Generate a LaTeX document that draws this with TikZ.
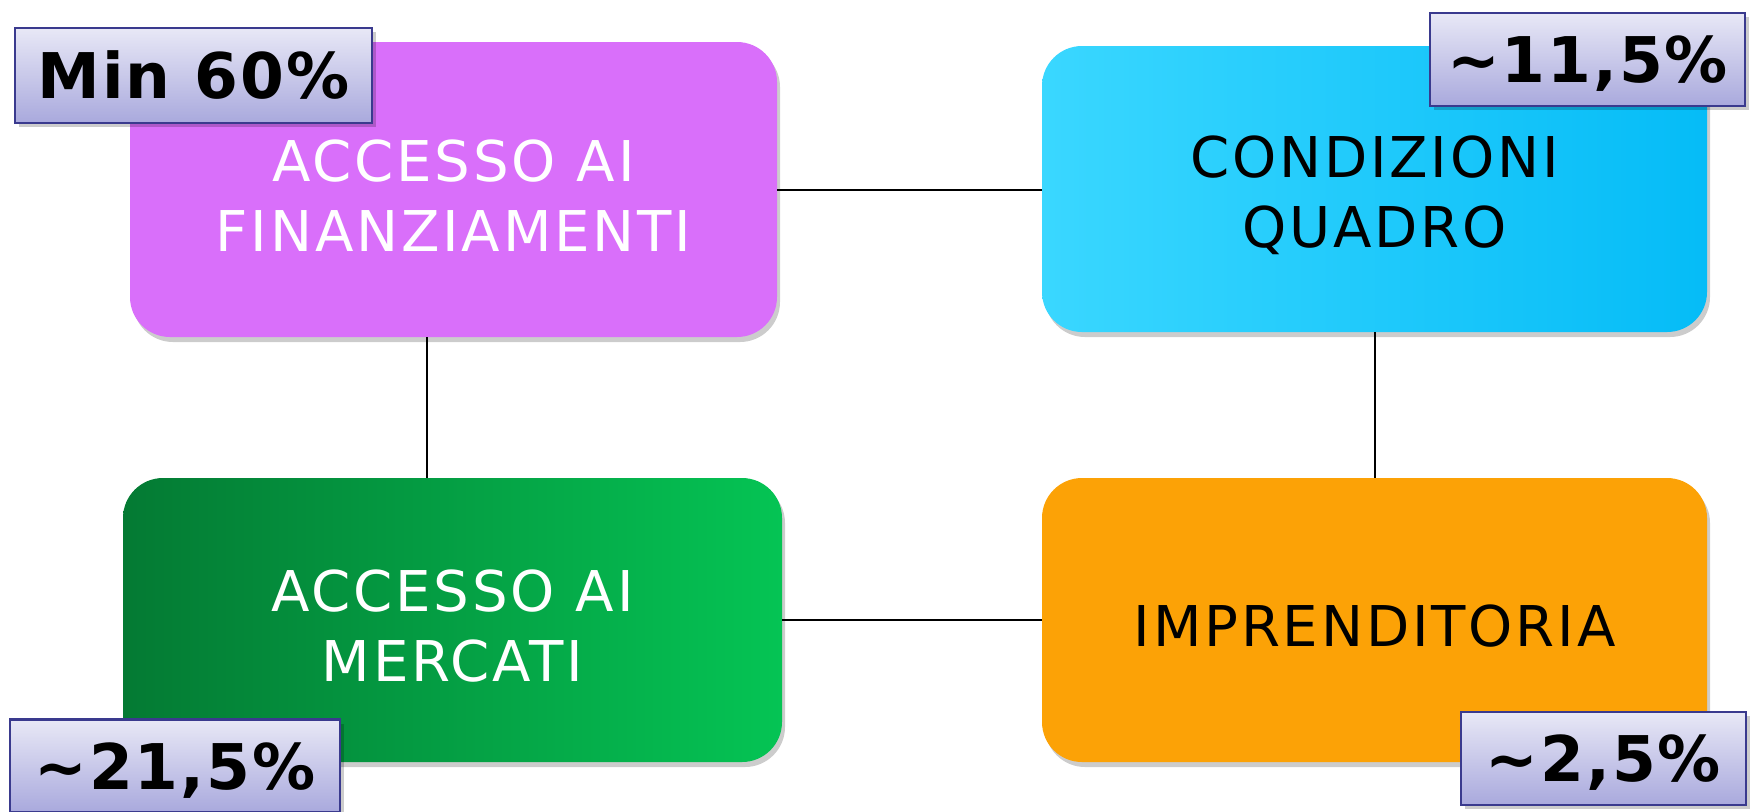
\documentclass[tikz,border=0pt]{standalone}
\usepackage{fontspec}
\setmainfont{DejaVu Sans}
\newfontfamily\boxfont[LetterSpace=5]{DejaVu Sans}
\newfontfamily\pctfont[LetterSpace=3]{DejaVu Sans}
\usetikzlibrary{shadows}
\definecolor{purpbox}{HTML}{D96FFA}
\definecolor{cyanL}{HTML}{3AD7FF}
\definecolor{cyanR}{HTML}{05BCF7}
\definecolor{greenL}{HTML}{047A33}
\definecolor{greenR}{HTML}{05C454}
\definecolor{orangebox}{HTML}{FCA206}
\definecolor{pcttop}{HTML}{E8E8F6}
\definecolor{pctbot}{HTML}{A9A9DD}
\definecolor{pctborder}{HTML}{3A3A8E}
\newcommand{\topstrut}{\rule{0pt}{27pt}}
\begin{document}
\begin{tikzpicture}[x=0.5pt,y=-0.5pt,
  area/.style={rounded corners=20pt, inner sep=0pt, align=center,
    font=\boxfont\fontsize{28.1}{35}\selectfont,
    drop shadow={shadow xshift=1.5pt,shadow yshift=-2.5pt,opacity=0.2,fill=black}},
  pct/.style={draw=pctborder, line width=1.2pt, top color=pcttop, bottom color=pctbot,
    inner sep=0pt, font=\pctfont\bfseries\fontsize{31.5}{36}\selectfont,
    text height=23pt, text depth=0pt,
    drop shadow={shadow xshift=2pt,shadow yshift=-2pt,opacity=0.2,fill=black}},
  link/.style={draw=black, line width=1pt}]
\useasboundingbox (0,0) rectangle (1750,811);

\node[area, fill=purpbox, text=white, minimum width=323.5pt, minimum height=147.5pt]
  (fin) at (453.5,189.5) {\topstrut ACCESSO AI\\FINANZIAMENTI};
\node[area, left color=cyanL, right color=cyanR, text=black, minimum width=332.5pt, minimum height=143pt]
  (cond) at (1374.5,189) {\topstrut CONDIZIONI\\QUADRO};
\node[area, left color=greenL, right color=greenR, text=white, minimum width=329.5pt, minimum height=142pt]
  (merc) at (452.5,620) {\topstrut ACCESSO AI\\MERCATI};
\node[area, fill=orangebox, text=black, minimum width=332.5pt, minimum height=142pt]
  (impr) at (1374.5,620) {\topstrut IMPRENDITORIA};

\draw[link] (fin.east) -- (fin.east -| cond.west);
\draw[link] (merc.east) -- (merc.east -| impr.west);
\draw[link] (cond.south) -- (impr.north);
\draw[link] ([xshift=-13.25pt]fin.south) -- ([xshift=-13.25pt]fin.south |- merc.north);

\node[pct, minimum width=178.5pt, minimum height=47.5pt] (p60) at (193.5,75.5) {Min 60\%};
\node[pct, minimum width=157.5pt, minimum height=46.5pt] (p11) at (1587.5,59.5) {\textasciitilde11,5\%};
\node[pct, minimum width=165pt, minimum height=46.5pt] (p21) at (175,766) {\textasciitilde21,5\%};
\node[pct, minimum width=142.5pt, minimum height=46.5pt] (p2) at (1603.5,758.5) {\textasciitilde2,5\%};
\end{tikzpicture}
\end{document}
